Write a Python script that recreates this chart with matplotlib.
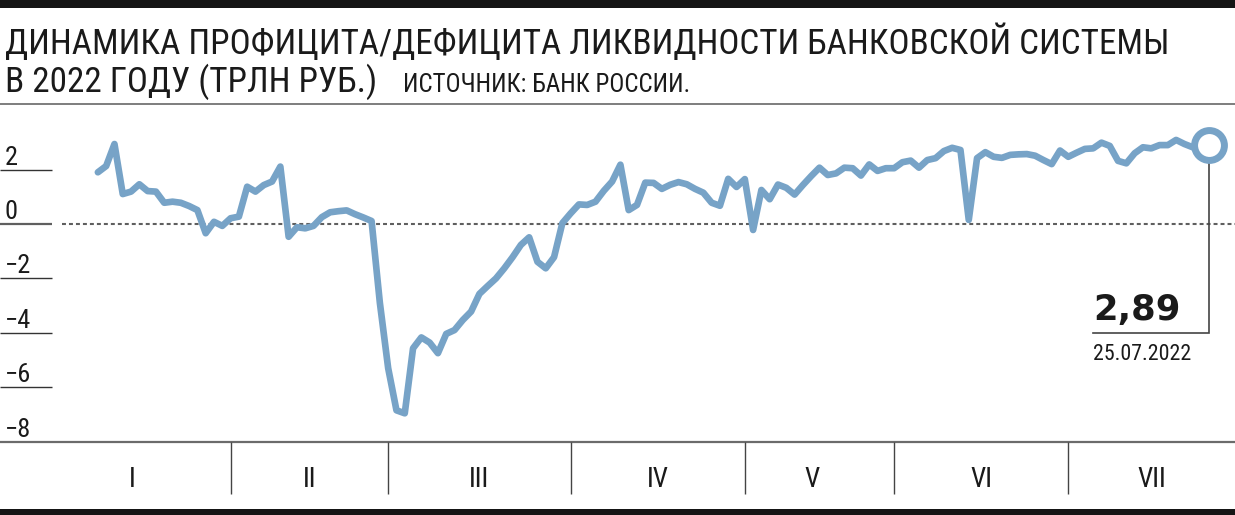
import matplotlib
matplotlib.use("Agg")
import matplotlib.pyplot as plt
import matplotlib.transforms as mtransforms
from matplotlib.patches import Rectangle
from matplotlib.lines import Line2D
from matplotlib import font_manager as fm

# ---------------- data ----------------
title_line1 = "ДИНАМИКА ПРОФИЦИТА/ДЕФИЦИТА ЛИКВИДНОСТИ БАНКОВСКОЙ СИСТЕМЫ"
title_line2 = "В 2022 ГОДУ (ТРЛН РУБ.)"
source_text = "ИСТОЧНИК: БАНК РОССИИ."

months = ["I", "II", "III", "IV", "V", "VI", "VII"]
# working-day index at which months II..VII begin
month_start_idx = [16, 35, 57, 78, 96, 117]

# liquidity surplus(+)/deficit(-), trln rub, one value per working day (10.01.2022 - 25.07.2022)
liquidity = [
    1.90, 2.13, 2.94, 1.10, 1.19, 1.46, 1.21, 1.19, 0.78, 0.82,
    0.78, 0.66, 0.51, -0.34, 0.08, -0.07, 0.21, 0.27, 1.37, 1.19,
    1.43, 1.56, 2.11, -0.47, -0.12, -0.16, -0.07, 0.25, 0.43, 0.47,
    0.50, 0.36, 0.24, 0.11, -2.90, -5.30, -6.85, -6.96, -4.57, -4.17,
    -4.36, -4.75, -4.04, -3.90, -3.53, -3.22, -2.57, -2.28, -2.00, -1.63,
    -1.22, -0.77, -0.49, -1.39, -1.63, -1.22, 0.03, 0.39, 0.72, 0.70,
    0.82, 1.22, 1.56, 2.18, 0.51, 0.70, 1.52, 1.51, 1.29, 1.44,
    1.54, 1.46, 1.29, 1.15, 0.78, 0.67, 1.66, 1.36, 1.65, -0.22,
    1.25, 0.91, 1.45, 1.33, 1.08, 1.43, 1.76, 2.07, 1.80, 1.86,
    2.07, 2.05, 1.78, 2.19, 1.95, 2.05, 2.05, 2.27, 2.33, 2.07,
    2.35, 2.42, 2.68, 2.80, 2.72, 0.15, 2.42, 2.64, 2.47, 2.43,
    2.54, 2.56, 2.57, 2.51, 2.35, 2.20, 2.70, 2.47, 2.62, 2.76,
    2.78, 2.99, 2.87, 2.32, 2.23, 2.60, 2.82, 2.78, 2.90, 2.90,
    3.09, 2.94, 2.82, 2.85, 2.89,
]
y_ticks = [2, 0, -2, -4, -6, -8]
y_tick_labels = ["2", "0", "\u22122", "\u22124", "\u22126", "\u22128"]
last_value_label = "2,89"
last_date_label = "25.07.2022"

# ---------------- style ----------------
W, H = 1235, 515
DPI = 100
LINE_COLOR = "#77a3c7"
DARK = "#1a1a1a"
GRAY = "#5f5f5f"

avail = {f.name for f in fm.fontManager.ttflist}
cond_candidates = ["Liberation Sans Narrow", "Roboto Condensed", "Arial Narrow",
                   "Open Sans Condensed", "Noto Sans Display"]
COND = next((n for n in cond_candidates if n in avail), "Roboto")

fig = plt.figure(figsize=(W / DPI, H / DPI), dpi=DPI)
fig.patch.set_facecolor("white")

def fy(py):
    return 1 - py / H

ax_bottom_px, ax_top_px = 441.6, 110.0
ax = fig.add_axes([0, fy(ax_bottom_px), 1, (ax_bottom_px - ax_top_px) / H])
x = list(range(len(liquidity)))
ax.set_xlim(-11.8, 137.1)
ax.set_ylim(-8, 4.19)
for s in ax.spines.values():
    s.set_visible(False)
ax.set_xticks([])
ax.set_yticks([])
ax.patch.set_alpha(0)

ytr = ax.get_yaxis_transform()
xtr = ax.get_xaxis_transform()

# short grid segments at left
for v in y_ticks:
    if v == -8:
        continue
    if v == 0:
        ax.plot([0, 52 / W], [v, v], transform=ytr, color=GRAY, lw=1.6, zorder=1,
                solid_capstyle="butt")
    else:
        ax.plot([0, 52 / W], [v, v], transform=ytr, color="#333333", lw=1.0, zorder=1,
                solid_capstyle="butt")
# dashed zero line
ax.plot([62 / W, 1], [0, 0], transform=ytr, color=GRAY, lw=1.5,
        linestyle=(0, (1.9, 1.45)), zorder=1)
# bottom axis line (-8)
ax.plot([0, 1], [-8, -8], transform=ytr, color="#6b6b6b", lw=1.6, zorder=1,
        clip_on=False, solid_capstyle="butt")

# y labels
lab_tr = mtransforms.offset_copy(ytr, fig=fig, x=0, y=5, units="dots")
for v, lab in zip(y_ticks, y_tick_labels):
    ax.text(5 / W, v, lab, transform=lab_tr, ha="left", va="baseline",
            fontsize=19, family=[COND, "DejaVu Sans"], color=DARK)

# month dividers & labels
div_bottom = -(494 - ax_bottom_px) / (ax_bottom_px - ax_top_px)
for k in month_start_idx:
    ax.plot([k, k], [0, div_bottom], transform=xtr, color="#444444", lw=1.0,
            clip_on=False, solid_capstyle="butt")
edges = [-7.6] + month_start_idx + [137.1]
lab_y = -(487 - ax_bottom_px) / (ax_bottom_px - ax_top_px)
for i, m in enumerate(months):
    mid = (edges[i] + edges[i + 1]) / 2
    if m == "V":
        mid -= 0.9
    ax.text(mid, lab_y, m, transform=xtr, ha="center", va="baseline",
            fontsize=19.5, family=[COND, "DejaVu Sans"], color=DARK, clip_on=False)

# main line
ax.plot(x, liquidity, color=LINE_COLOR, lw=4.8, solid_joinstyle="round",
        solid_capstyle="round", zorder=3)

# annotation connector
x_last, y_last = x[-1], liquidity[-1]
x_left = x_last - 14.0
y_h = -4.02
ax.plot([x_left, x_last, x_last], [y_h, y_h, y_last], color="#444444", lw=1.2,
        zorder=2, solid_joinstyle="miter")
ax.plot([x_last], [y_last], marker="o", ms=21.5, mfc="white", mec=LINE_COLOR,
        mew=5.0, zorder=5, linestyle="none")
ax.text(x_left, -3.53, last_value_label, ha="left", va="baseline",
        fontsize=25.5, fontweight="bold", family=["DejaVu Sans"], color=DARK)
t_date = ax.text(x_left, -4.42, last_date_label, ha="left", va="top",
                 fontsize=17, family=[COND, "DejaVu Sans"], color=DARK)

# titles
t1 = fig.text(5 / W, fy(54), title_line1, ha="left", va="baseline",
              fontsize=27, family=[COND, "DejaVu Sans"], color=DARK)
t2 = fig.text(5 / W, fy(92), title_line2, ha="left", va="baseline",
              fontsize=27, family=[COND, "DejaVu Sans"], color=DARK)
t3 = fig.text(403 / W, fy(92), source_text, ha="left", va="baseline",
              fontsize=18.5, family=[COND, "DejaVu Sans"], color=DARK)

# fit text widths to reference layout
fig.canvas.draw()
r = fig.canvas.get_renderer()
def fit(t, target):
    w = t.get_window_extent(r).width
    if w > 0:
        t.set_fontsize(t.get_fontsize() * target / w)
fit(t1, 1166)
t2.set_fontsize(t1.get_fontsize())
fit(t3, 289)
fit(t_date, 98)

# decorative bars / rules
fig.add_artist(Rectangle((0, fy(8)), 1, 8 / H, transform=fig.transFigure,
                         color="#151515", lw=0))
fig.add_artist(Rectangle((0, 0), 1, 6 / H, transform=fig.transFigure,
                         color="#151515", lw=0))
fig.add_artist(Line2D([0, 1], [fy(104), fy(104)], transform=fig.transFigure,
                      color="#5a5a5a", lw=1.1))

fig.savefig("out.png", dpi=DPI, facecolor="white")
